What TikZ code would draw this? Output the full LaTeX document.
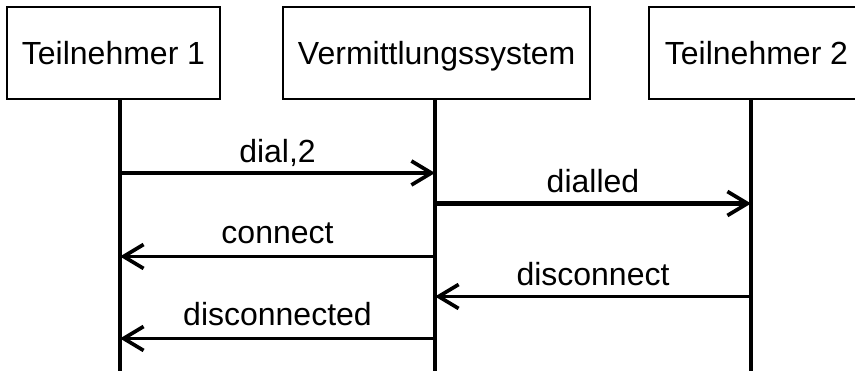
\documentclass[tikz,border=0pt]{standalone}
\usepackage{fontspec}
\setmainfont{Liberation Sans}
\usetikzlibrary{arrows.meta}
\begin{document}
\begin{tikzpicture}[x=1pt,y=-1pt,
  actor/.style={draw, line width=2pt, minimum height=92pt, text height=23pt, text depth=0pt, inner sep=0pt, font=\fontsize{32}{38}\selectfont},
  lifeline/.style={line width=3.5pt},
  msg/.style={line width=3.7pt, -{Straight Barb[length=20pt,width=24pt,line width=3.7pt]}},
  lbl/.style={font=\fontsize{32}{38}\selectfont, anchor=base, inner sep=0pt, yshift=11pt}]
\useasboundingbox (0,0) rectangle (855,371);
\node[actor, minimum width=213pt] (t1) at (113.5,53.5) {Teilnehmer 1};
\node[actor, minimum width=307pt] (vs) at (436.7,53.5) {Vermittlungssystem};
\node[actor, minimum width=215pt] (t2) at (756.5,53.5) {Teilnehmer 2};
% lifelines
\coordinate (l1t) at (120,99.5);  \coordinate (l1b) at (120,372);
\coordinate (l2t) at (435,99.5);  \coordinate (l2b) at (435,372);
\coordinate (l3t) at (751,99.5);  \coordinate (l3b) at (751,372);
\draw[lifeline] (l1t) -- (l1b);
\draw[lifeline] (l2t) -- (l2b);
\draw[lifeline] (l3t) -- (l3b);
% message points
\coordinate (m1a) at (120,173); \coordinate (m1b) at (435,173);
\coordinate (m2a) at (435,203.5); \coordinate (m2b) at (751,203.5);
\coordinate (m3a) at (435,256.5); \coordinate (m3b) at (120,256.5);
\coordinate (m4a) at (751,296.5); \coordinate (m4b) at (435,296.5);
\coordinate (m5a) at (435,338.5); \coordinate (m5b) at (120,338.5);
\draw[msg] (m1a) -- (m1b) node[midway, lbl, yshift=-1pt] {dial,2};
\draw[msg, line width=5pt] (m2a) -- (m2b) node[midway, lbl] {dialled};
\draw[msg] (m3a) -- (m3b) node[midway, lbl, yshift=1.5pt] {connect};
\draw[msg] (m4a) -- (m4b) node[midway, lbl] {disconnect};
\draw[msg] (m5a) -- (m5b) node[midway, lbl, yshift=1.5pt] {disconnected};
\end{tikzpicture}
\end{document}
